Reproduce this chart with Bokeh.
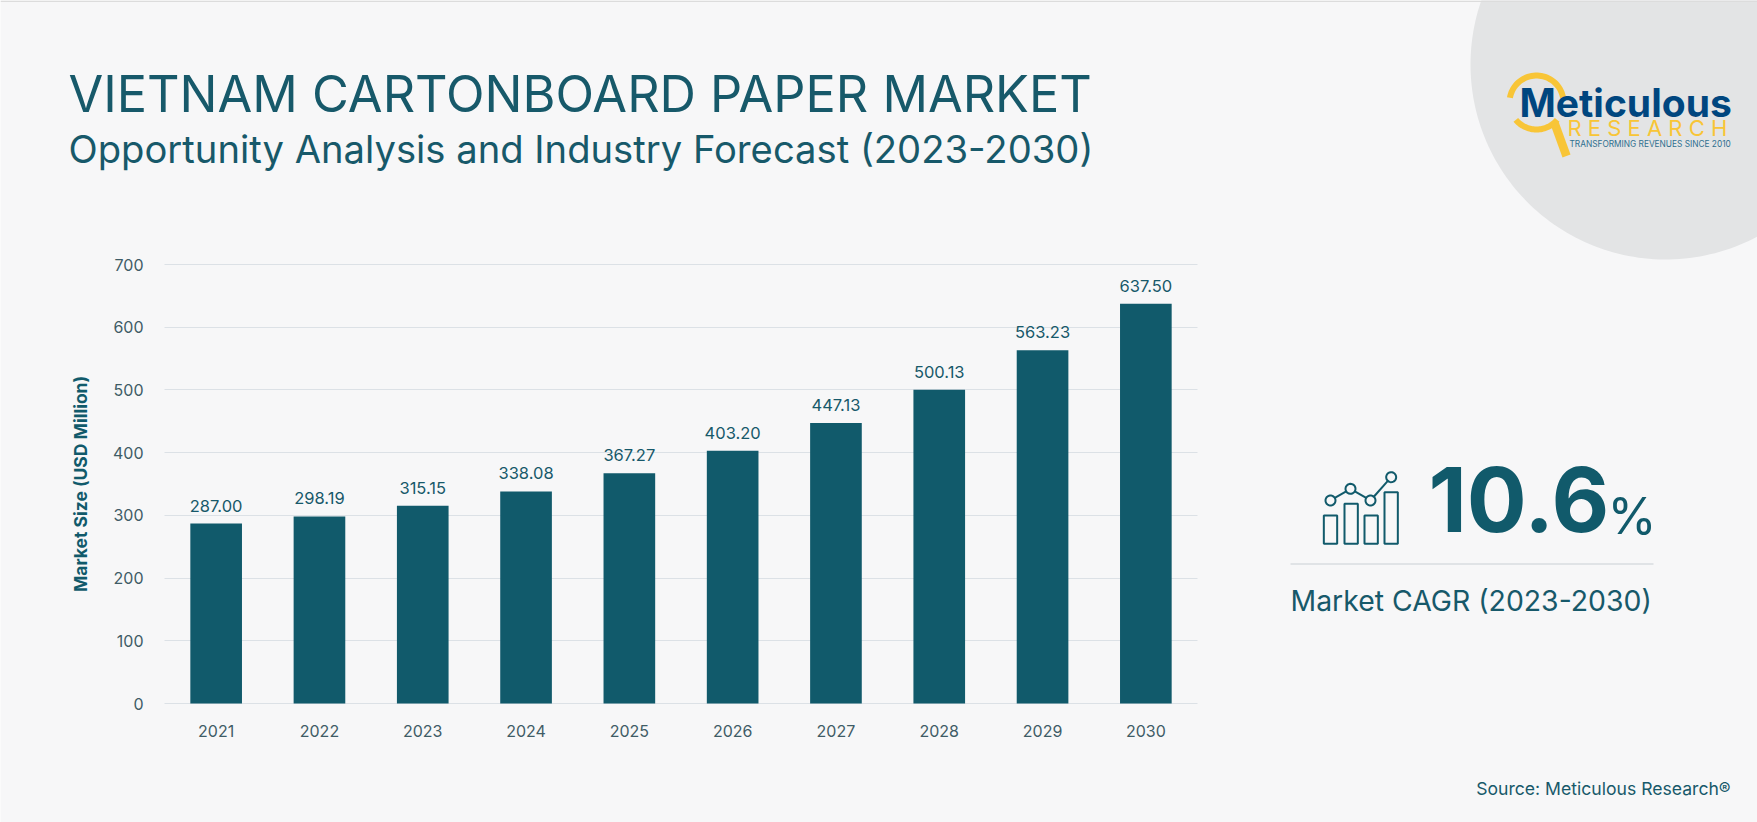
import numpy as np
from bokeh.core.properties import value
from bokeh.embed import file_html
from bokeh.resources import INLINE
from bokeh.plotting import figure
from bokeh.models import (ColumnDataSource, Label, LabelSet, PolyAnnotation, BoxAnnotation,
                          Range1d, FixedTicker)

years = [2021, 2022, 2023, 2024, 2025, 2026, 2027, 2028, 2029, 2030]
market_size = [287.00, 298.19, 315.15, 338.08, 367.27, 403.20, 447.13, 500.13, 563.23, 637.50]
size_labels = ["287.00", "298.19", "315.15", "338.08", "367.27", "403.20", "447.13", "500.13", "563.23", "637.50"]
y_ticks = [0, 100, 200, 300, 400, 500, 600, 700]

TEAL = "#115a6b"
TEXT = "#17596a"
TICK = "#3f5c66"
BG = "#f7f7f8"
FONT = "Inter"
W, H = 1757, 822

# The frame fills the page; the chart's scales are set so its plot area lands where it does in the reference
PX_LEFT, PX_RIGHT, PX_ZERO, PX_TOP = 164, 1197, 703, 264
PER_YEAR = (PX_RIGHT - PX_LEFT) / 10
PER_UNIT = (PX_ZERO - PX_TOP) / 700
x_lo = years[0] - 0.5 - PX_LEFT / PER_YEAR
y_lo = -(H - PX_ZERO) / PER_UNIT

src = ColumnDataSource(dict(year=years, value=market_size, label=size_labels))
p = figure(width=W, height=H, output_backend="svg", toolbar_location=None,
           x_range=Range1d(x_lo, x_lo + W / PER_YEAR), y_range=Range1d(y_lo, y_lo + H / PER_UNIT),
           min_border=0, background_fill_color=BG, border_fill_color=BG)
p.outline_line_color = None


def poly(xs, ys, fill=None, line=None, lw=0, level="underlay"):
    p.add_layout(PolyAnnotation(xs=list(xs), ys=list(ys), xs_units="canvas", ys_units="canvas",
                                fill_color=fill, fill_alpha=1 if fill else 0,
                                line_color=line, line_alpha=1 if line else 0, line_width=lw, level=level))


def box(l, r, t, b, fill=None, line=None, lw=0, level="underlay"):
    p.add_layout(BoxAnnotation(left=l, right=r, top=t, bottom=b, left_units="canvas", right_units="canvas",
                               top_units="canvas", bottom_units="canvas",
                               fill_color=fill, fill_alpha=1 if fill else 0,
                               line_color=line, line_alpha=1 if line else 0, line_width=lw, level=level))


def text(x, y, s, size, color=TEXT, style="normal", align="left", font=FONT):
    # y is the wanted baseline; the label box sits a little below it
    p.add_layout(Label(x=x, y=y - 0.42 * size, x_units="canvas", y_units="canvas", text=s, text_font=font,
                       text_font_size=f"{size}px", text_color=color, text_font_style=style,
                       text_align=align, text_baseline="alphabetic"))


def ring(cx, cy, r, a0=0, a1=360, n=120):
    a = np.radians(np.linspace(a0, a1, n))
    return cx + r * np.cos(a), cy + r * np.sin(a)


# Decorative corner circle
cx, cy = ring(1665, 64, 195, n=240)
poly(cx, cy, fill="#e3e4e5")
box(0, W, 0, 1.5, fill="#dcdcdc")

# Bars
p.vbar(x="year", top="value", width=0.5, source=src, color=TEAL, line_color=None)
p.add_layout(LabelSet(x="year", y="value", text="label", source=src, text_align="center", text_baseline="alphabetic",
                      y_offset=12, text_font=value(FONT), text_font_size=value("16.5px"), text_color=TEXT))

# Axes
p.xaxis.fixed_location = 0
p.yaxis.fixed_location = years[0] - 0.5
p.xaxis.ticker = FixedTicker(ticks=years)
p.yaxis.ticker = FixedTicker(ticks=y_ticks)
p.xaxis.bounds = (years[0] - 0.5, years[-1] + 0.5)
p.yaxis.bounds = (0, 700)
p.yaxis.axis_label = "Market Size (USD Million)"
p.yaxis.axis_label_text_font = FONT
p.yaxis.axis_label_text_font_style = "bold"
p.yaxis.axis_label_text_font_size = "17.5px"
p.yaxis.axis_label_text_color = TEAL
p.yaxis.axis_label_standoff = 19
for ax in (p.xaxis[0], p.yaxis[0]):
    ax.axis_line_color = None
    ax.major_tick_line_color = None
    ax.minor_tick_line_color = None
    ax.major_label_text_font = FONT
    ax.major_label_text_font_size = "16px"
    ax.major_label_text_color = TICK
    ax.major_label_standoff = 15
p.xgrid.grid_line_color = None
p.ygrid.grid_line_color = "#dce1e6"
p.ygrid.grid_line_width = 1
p.ygrid.cross_bounds = (years[0] - 0.5, years[-1] + 0.5)

# Titles
text(68, 114, "VIETNAM CARTONBOARD PAPER MARKET", 50.4)
text(68, 165, "Opportunity Analysis and Industry Forecast (2023-2030)", 38.2)

# CAGR panel
OX, OY = 1270, 440
for l, r, t in [(160, 200, 225), (222, 262, 190), (282, 322, 225), (342, 382, 155)]:
    box(OX + l / 3, OX + r / 3, OY + t / 3, OY + 310 / 3, line=TEAL, lw=2)
nodes = [(180, 180), (240, 145), (300, 180), (362, 110)]
for (x0, y0), (x1, y1) in zip(nodes[:-1], nodes[1:]):
    d = np.hypot(x1 - x0, y1 - y0)
    ux, uy = (x1 - x0) / d * 15, (y1 - y0) / d * 15
    poly([OX + (x0 + ux) / 3, OX + (x1 - ux) / 3], [OY + (y0 + uy) / 3, OY + (y1 - uy) / 3], line=TEAL, lw=2)
for nx, ny in nodes:
    rx, ry = ring(OX + nx / 3, OY + ny / 3, 5, n=24)
    poly(rx, ry, line=TEAL, lw=2)
text(1428, 536, "10.6", 89, TEAL, "bold")
text(1607, 536, "%", 50, TEAL)
box(1290, 1653, 563, 564, fill="#c9cfd3")
text(1290, 612, "Market CAGR (2023-2030)", 28.4)
text(1730, 795, "Source: Meticulous Research®", 17.6, align="right")

# Logo
YEL = "#f8c537"
for a0, a1 in [(190, 350), (40, 140)]:
    ox, oy = ring(1536, 102, 30, a0, a1, 40)
    ix, iy = ring(1536, 102, 24, a0, a1, 40)
    poly(np.r_[ox, ix[::-1]], np.r_[oy, iy[::-1]], fill=YEL)
poly([1550, 1558, 1570, 1562], [124, 121, 154, 157], fill=YEL)
text(1519, 118, "Meticulous", 39, "#00467f", "bold")
text(1567, 137, "R E S E A R C H", 22, YEL)
text(1569, 147, "TRANSFORMING  REVENUES  SINCE  2010", 8.3, "#2f6f8f")

open("out.html", "w").write(file_html(p, INLINE))
